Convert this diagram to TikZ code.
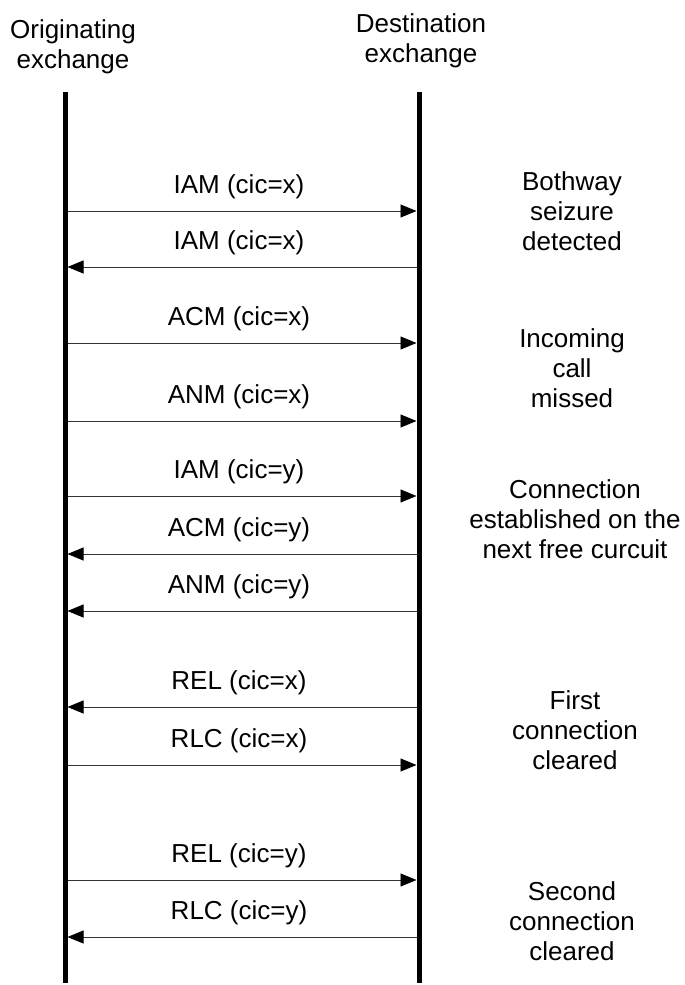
\documentclass[tikz,border=0pt]{standalone}
\usepackage{fontspec}
\setmainfont{Liberation Sans}
\usetikzlibrary{arrows.meta}
\begin{document}
\begin{tikzpicture}[x=1pt,y=-1pt,
  lbl/.style={font=\fontsize{26}{30}\selectfont, align=center, inner sep=0pt, text=black},
  msglbl/.style={lbl, anchor=base, yshift=18pt, xshift=-3pt},
  lifeline/.style={line width=5pt},
  msg/.style={line width=0.9pt, black!80, -{Triangle[length=16pt,width=13pt,color=black]}, shorten <=2.5pt, shorten >=2.5pt}]
\useasboundingbox (0,0) rectangle (685,985);
% column headings
\node[lbl] (orig) at (73,47) {Originating\\exchange};
\node[lbl] (dest) at (421,41) {Destination\\exchange};
% lifelines
\coordinate (otop) at (65,92);
\coordinate (obot) at (65,983);
\coordinate (dtop) at (419,92);
\coordinate (dbot) at (419,983);
\draw[lifeline] (otop) -- (obot);
\draw[lifeline] (dtop) -- (dbot);
% message rows: index/y-position
\foreach \i/\y in {1/211,2/267,3/343,4/421,5/496,6/554,7/611,8/707,9/765,10/880,11/937}{
  \coordinate (o\i) at (65,\y);
  \coordinate (d\i) at (419,\y);
}
% messages
\draw[msg] (o1) -- node[msglbl] {IAM (cic=x)} (d1);
\draw[msg] (d2) -- node[msglbl] {IAM (cic=x)} (o2);
\draw[msg] (o3) -- node[msglbl] {ACM (cic=x)} (d3);
\draw[msg] (o4) -- node[msglbl] {ANM (cic=x)} (d4);
\draw[msg] (o5) -- node[msglbl] {IAM (cic=y)} (d5);
\draw[msg] (d6) -- node[msglbl] {ACM (cic=y)} (o6);
\draw[msg] (d7) -- node[msglbl] {ANM (cic=y)} (o7);
\draw[msg] (d8) -- node[msglbl] {REL (cic=x)} (o8);
\draw[msg] (o9) -- node[msglbl] {RLC (cic=x)} (d9);
\draw[msg] (o10) -- node[msglbl] {REL (cic=y)} (d10);
\draw[msg] (d11) -- node[msglbl] {RLC (cic=y)} (o11);
% side notes
\node[lbl] (n1) at (572,211) {Bothway\\seizure\\detected};
\node[lbl] (n2) at (572,368) {Incoming\\call\\missed};
\node[lbl] (n3) at (575,519) {Connection\\established on the\\next free curcuit};
\node[lbl] (n4) at (575,730) {First\\connection\\cleared};
\node[lbl] (n5) at (572,921) {Second\\connection\\cleared};
\end{tikzpicture}
\end{document}
